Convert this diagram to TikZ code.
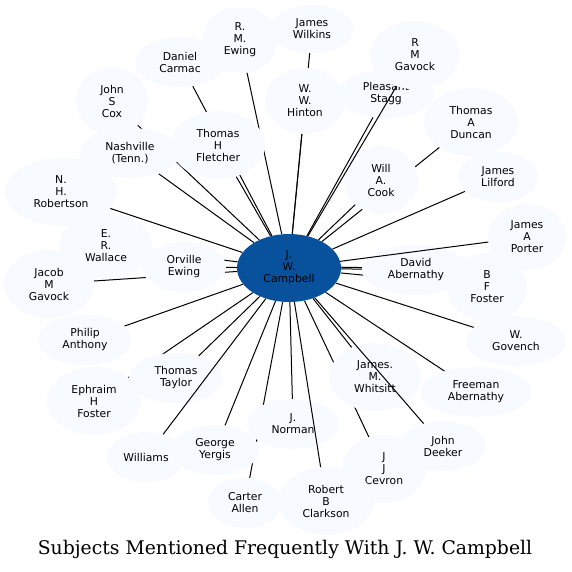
\documentclass[tikz,border=0pt]{standalone}
\usepackage{fontspec}
\setmainfont{DejaVu Sans}
\newfontfamily\titlefont{DejaVu Serif}
\usetikzlibrary{shapes.geometric}
\definecolor{light}{HTML}{F7FBFF}
\definecolor{hub}{HTML}{08519C}
\pgfdeclarelayer{bg}
\pgfsetlayers{bg,main}
\begin{document}
\begin{tikzpicture}[x=1pt,y=-1pt,
  nd/.style 2 args={ellipse, fill=light, inner sep=0pt, minimum width=#1pt, minimum height=#2pt,
    align=center, font=\fontsize{10.8}{12}\selectfont},
  ln/.style={line width=1pt, black}]
\useasboundingbox (0,0) rectangle (572,571);
% centre
\node[nd={104}{68}, fill=hub] (c) at (289,268) {J.\\W.\\Campbell};
% surrounding nodes
\node[nd={90}{50}] (carmac) at (180,62) {Daniel\\Carmac};
\node[nd={76}{66}] (ewing) at (240,40) {R.\\M.\\Ewing};
\node[nd={84}{48}] (wilkins) at (312,29) {James\\Wilkins};
\node[nd={80}{66}] (hinton) at (305,101) {W.\\W.\\Hinton};
\node[nd={96}{48}] (stagg) at (386,94) {Pleasant\\Stagg};
\node[nd={90}{68}] (rmgavock) at (415,55) {R\\M\\Gavock};
\node[nd={94}{68}] (duncan) at (471,122) {Thomas\\A\\Duncan};
\node[nd={74}{68}] (cook) at (381,180) {Will\\A.\\Cook};
\node[nd={80}{50}] (lilford) at (498,177) {James\\Lilford};
\node[nd={78}{66}] (porter) at (527,237) {James\\A\\Porter};
\node[nd={80}{68}] (bffoster) at (487,287) {B\\F\\Foster};
\node[nd={108}{50}] (abernathy) at (416,270) {David\\Abernathy};
\node[nd={100}{50}] (govench) at (516,341) {W.\\Govench};
\node[nd={112}{50}] (freeman) at (476,392) {Freeman\\Abernathy};
\node[nd={92}{68}] (whitsitt) at (375,377) {James.\\M.\\Whitsitt};
\node[nd={86}{50}] (deeker) at (443,446) {John\\Deeker};
\node[nd={84}{68}] (cevron) at (384,469) {J\\J\\Cevron};
\node[nd={92}{50}] (norman) at (293,424) {J.\\Norman};
\node[nd={96}{68}] (clarkson) at (326,501) {Robert\\B\\Clarkson};
\node[nd={88}{50}] (yergis) at (215,450) {George\\Yergis};
\node[nd={74}{50}] (carter) at (245,503) {Carter\\Allen};
\node[nd={78}{50}] (williams) at (146,457) {Williams};
\node[nd={94}{68}] (ephraim) at (94,401) {Ephraim\\H\\Foster};
\node[nd={94}{50}] (taylor) at (176,378) {Thomas\\Taylor};
\node[nd={94}{50}] (anthony) at (85,340) {Philip\\Anthony};
\node[nd={90}{68}] (jacob) at (49,284) {Jacob\\M\\Gavock};
\node[nd={92}{66}] (wallace) at (106,246) {E.\\R.\\Wallace};
\node[nd={84}{50}] (orville) at (184,267) {Orville\\Ewing};
\node[nd={112}{68}] (robertson) at (61,192) {N.\\H.\\Robertson};
\node[nd={72}{68}] (cox) at (112,101) {John\\S\\Cox};
\node[nd={100}{50}] (nashville) at (130,153) {Nashville\\(Tenn.)};
\node[nd={94}{68}] (fletcher) at (218,145) {Thomas\\H\\Fletcher};
% edges hidden behind nodes
\begin{pgfonlayer}{bg}
\foreach \t in {carmac,ewing,wilkins,hinton,stagg,duncan,cook,lilford,bffoster,
  abernathy,govench,freeman,whitsitt,cevron,norman,yergis,carter,ephraim,taylor,
  anthony,jacob,wallace,orville,robertson,cox,nashville,fletcher}
  \draw[ln] (c) -- (\t);
\draw[ln, transform canvas={yshift=1.6pt}] (c) -- (abernathy);
\end{pgfonlayer}
% edges drawn over nodes
\foreach \t in {rmgavock,porter,deeker,clarkson,williams}
  \draw[ln] (c) -- (\t);
% title
\node[font=\titlefont\fontsize{18.8}{22}\selectfont] (title) at (285,549)
  {Subjects Mentioned Frequently With J. W. Campbell};
\end{tikzpicture}
\end{document}
